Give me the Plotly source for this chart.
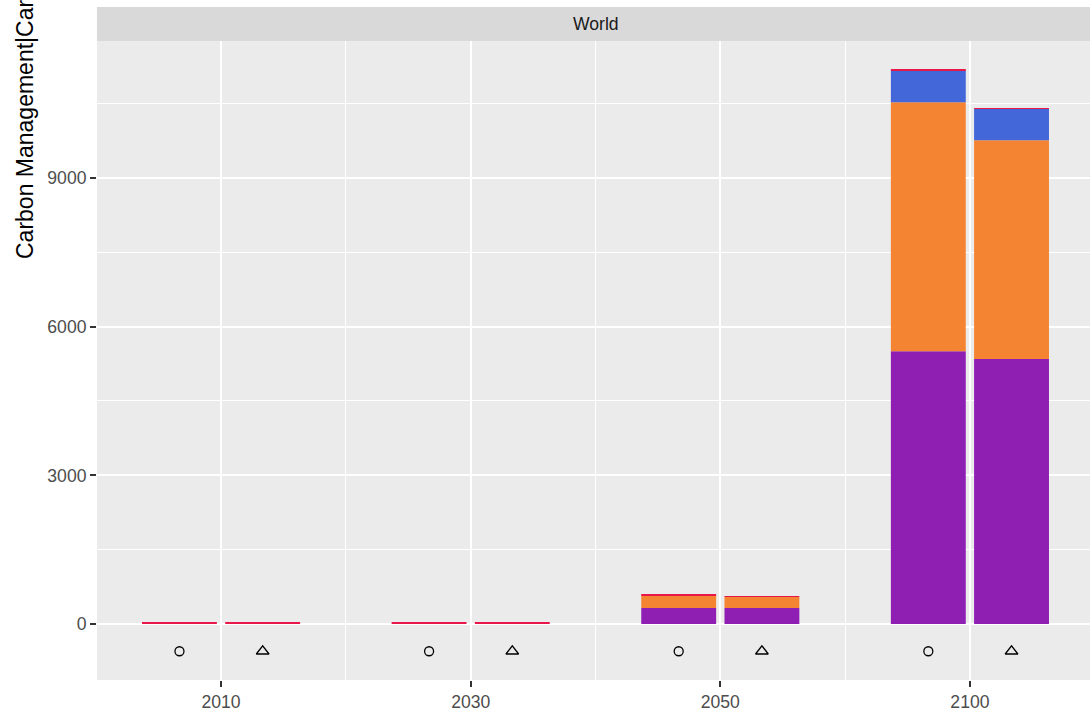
import plotly.graph_objects as go

# ---- data ----
years = ["2010", "2030", "2050", "2100"]
scenarios = ["Scenario A", "Scenario B"]
scenario_symbols = ["circle-open", "triangle-up-open"]

series_names = [
    "Carbon Management|Carbon Capture|Biomass",
    "Carbon Management|Carbon Capture|Fossil",
    "Carbon Management|Carbon Capture|Direct Air Capture",
    "Carbon Management|Carbon Capture|Industrial Processes",
]
series_colors = ["#8E1FB2", "#F58432", "#4366D9", "#E8174A"]

# values[series] -> list over years, one table per scenario
values_A = [
    [0, 0, 323, 5506],      # purple
    [0, 0, 262, 5023],      # orange
    [0, 0, 0, 645],         # blue
    [25, 30, 15, 20],       # red
]
values_B = [
    [0, 0, 323, 5345],
    [0, 0, 222, 4417],
    [0, 0, 0, 632],
    [25, 30, 15, 14],
]
scenario_values = [values_A, values_B]

marker_y = -550  # label-marker row beneath the bars

# ---- layout constants ----
dodge = 1 / 3
bar_width = 0.3
W, H = 1090, 711
ML, MR, MT, MB = 97, 0, 41, 31
plot_w = W - ML - MR
plot_h = H - MT - MB

fig = go.Figure()
idx = list(range(len(years)))
for s, (vals, sym) in enumerate(zip(scenario_values, scenario_symbols)):
    offset = (s - 0.5) * dodge
    xs = [i + offset for i in idx]
    for k, name in enumerate(series_names):
        fig.add_trace(go.Bar(
            x=xs, y=vals[k], width=bar_width, name=name,
            marker=dict(color=series_colors[k], line=dict(width=0)),
            showlegend=False,
        ))
    fig.add_trace(go.Scatter(
        x=xs, y=[marker_y] * len(xs), mode="markers",
        marker=dict(symbol=sym, size=9 if s == 0 else 11, color="black",
                    line=dict(width=1.3, color="black")),
        name=scenarios[s], showlegend=False,
    ))

fig.update_layout(
    width=W, height=H,
    margin=dict(l=ML, r=MR, t=MT, b=MB, pad=0),
    barmode="relative",
    paper_bgcolor="white",
    plot_bgcolor="#EBEBEB",
    font=dict(family="Liberation Sans, Arial, sans-serif", color="#4D4D4D", size=17.6),
    showlegend=False,
)
fig.update_xaxes(
    range=[-0.497, 3.481],
    tickmode="array", tickvals=idx, ticktext=years,
    showgrid=True, gridcolor="white", gridwidth=1.8,
    zeroline=False, showline=False,
    ticks="outside", ticklen=6, tickwidth=1.5, tickcolor="#333333",
    tickfont=dict(size=17.6, color="#4D4D4D"),
    minor=dict(tickmode="array", tickvals=[0.5, 1.5, 2.5], showgrid=True,
               gridcolor="white", gridwidth=0.9, ticks=""),
)
fig.update_yaxes(
    range=[-1130, 11764],
    tickmode="array", tickvals=[0, 3000, 6000, 9000],
    ticktext=["0", "3000", "6000", "9000"],
    showgrid=True, gridcolor="white", gridwidth=1.8,
    zeroline=False, showline=False,
    ticks="outside", ticklen=6, tickwidth=1.5, tickcolor="#333333",
    tickfont=dict(size=17.6, color="#4D4D4D"),
    minor=dict(tickmode="array", tickvals=[1500, 4500, 7500, 10500], showgrid=True,
               gridcolor="white", gridwidth=0.9, ticks=""),
)

# facet strip
strip_h = 34
fig.add_shape(type="rect", xref="paper", yref="paper",
              x0=0, x1=1.01, y0=1, y1=1 + strip_h / plot_h,
              fillcolor="#D9D9D9", line=dict(width=0), layer="below")
fig.add_annotation(text="World", xref="x", yref="paper", x=1.5,
                   y=1 + (strip_h / 2) / plot_h, showarrow=False,
                   xanchor="center", yanchor="middle",
                   font=dict(size=17.6, color="#1A1A1A"))

# y-axis title (long, clipped at top as in the reference)
fig.add_annotation(text="Carbon Management|Carbon Capture (Mt CO2/yr)",
                   xref="paper", yref="paper",
                   x=(25 - ML) / plot_w, y=(H - MB - 261) / plot_h,
                   textangle=-90, showarrow=False,
                   xanchor="center", yanchor="bottom",
                   font=dict(size=23, color="black"))

fig.write_html(
    "out.html",
    config={"displayModeBar": False},
    post_script="document.body.style.margin='0px';document.body.style.overflow='hidden';",
)
